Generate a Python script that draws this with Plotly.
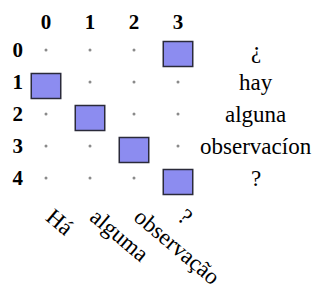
import plotly.graph_objects as go

col_labels = ["0", "1", "2", "3"]
row_labels = ["0", "1", "2", "3", "4"]
target_words = ["Há", "alguma", "observação", "?"]
source_words = ["¿", "hay", "alguna", "observacíon", "?"]
align_rows = [0, 1, 2, 3, 4]
align_cols = [3, 0, 1, 2, 3]

cols = list(range(len(col_labels)))
rows = list(range(len(row_labels)))
aligned = set(zip(align_rows, align_cols))

dot_x = [c for r in rows for c in cols if (r, c) not in aligned]
dot_y = [r for r in rows for c in cols if (r, c) not in aligned]

FONT = "Liberation Serif, serif"

fig = go.Figure()
fig.add_trace(go.Scatter(x=dot_x, y=dot_y, mode="markers",
                         marker=dict(size=3, color="#8a8a8a"),
                         hoverinfo="skip", showlegend=False))
fig.add_trace(go.Scatter(x=cols, y=[0] * len(cols), xaxis="x2", mode="markers",
                         marker=dict(size=1, opacity=0), hoverinfo="skip",
                         showlegend=False))

w, h, off = 0.67, 0.78, 0.125
for r, c in zip(align_rows, align_cols):
    fig.add_shape(type="rect", xref="x", yref="y",
                  x0=c - w / 2, x1=c + w / 2,
                  y0=r + off - h / 2, y1=r + off + h / 2,
                  fillcolor="#8c8cf0", line=dict(color="#2a2a3a", width=1.5))

for r, word in zip(rows, source_words):
    fig.add_annotation(xref="paper", yref="y", x=1.318, y=r, text=word,
                       showarrow=False, xanchor="center", yanchor="middle",
                       font=dict(family=FONT, size=23, color="black"))

fig.update_layout(
    width=315, height=285,
    margin=dict(l=24, r=115, t=34, b=87),
    paper_bgcolor="white", plot_bgcolor="white",
    font=dict(family=FONT),
    xaxis=dict(range=[-0.5, 3.5], tickvals=cols, ticktext=target_words,
               tickangle=40, showgrid=False, zeroline=False, showline=False,
               ticks="", automargin=False, ticklabelshift=6,
               tickfont=dict(family=FONT, size=23, color="black")),
    xaxis2=dict(range=[-0.5, 3.5], overlaying="x", side="top", tickvals=cols,
                ticktext=["<b>%s</b>" % t for t in col_labels],
                showgrid=False, zeroline=False, showline=False, ticks="",
                automargin=False,
                tickfont=dict(family=FONT, size=21, color="black")),
    yaxis=dict(range=[4.625, -0.5], tickvals=rows,
               ticktext=["<b>%s</b>" % t for t in row_labels],
               showgrid=False, zeroline=False, showline=False, ticks="",
               automargin=False,
               tickfont=dict(family=FONT, size=21, color="black")),
)

fig.write_html("out.html", config={"displayModeBar": False},
               post_script="document.body.style.margin='0';"
                           "document.body.style.overflow='hidden';")
